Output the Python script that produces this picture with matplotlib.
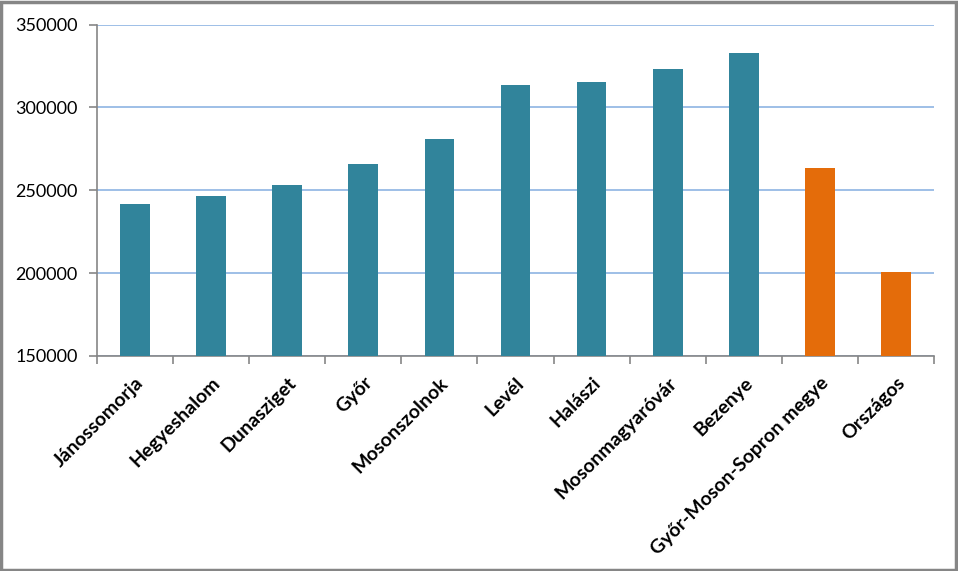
import matplotlib
matplotlib.use("Agg")
import matplotlib.pyplot as plt
from matplotlib.patches import Rectangle
import numpy as np

categories = ["Jánossomorja", "Hegyeshalom", "Dunasziget", "Győr", "Mosonszolnok",
              "Levél", "Halászi", "Mosonmagyaróvár", "Bezenye",
              "Győr-Moson-Sopron megye", "Országos"]
values = [242000, 246700, 253300, 266000, 281100, 313700, 315600, 323400, 333000,
          263600, 200800]
colors = ["#31849B"] * 9 + ["#E46C0A"] * 2
yticks = [150000, 200000, 250000, 300000, 350000]

plt.rcParams['font.family'] = ['Lato', 'DejaVu Sans']

W, H = 958, 571
fig = plt.figure(figsize=(W / 100, H / 100), dpi=100)
ax = fig.add_axes([97 / W, 1 - 356 / H, (934 - 97) / W, (356 - 24.5) / H])

x = np.arange(len(categories))
ax.bar(x, values, width=0.39, color=colors, zorder=3)
ax.set_xlim(-0.5, len(categories) - 0.5)
ax.set_ylim(150000, 350000)
ax.set_yticks(yticks)
ax.set_yticklabels([str(v) for v in yticks], fontsize=13)
ax.yaxis.grid(True, color="#8EB4E3", linewidth=1.2, zorder=0)
ax.set_axisbelow(True)

ax.set_xticks(np.arange(-0.5, len(categories) + 0.5, 1))
ax.set_xticklabels([])
ax.set_xticks(x, minor=True)
ax.set_xticklabels(categories, minor=True, rotation=45, ha="right", va="top",
                   rotation_mode="anchor", fontsize=14, fontweight="bold")
ax.tick_params(axis="x", which="minor", length=0, pad=13)
ax.tick_params(axis="x", which="major", length=6, color="#868686", width=1.2)
ax.tick_params(axis="y", length=6, color="#868686", width=1.2, pad=8)

for s in ["top", "right"]:
    ax.spines[s].set_visible(False)
for s in ["left", "bottom"]:
    ax.spines[s].set_color("#868686")
    ax.spines[s].set_linewidth(1.2)

fig.patches.append(Rectangle((0.001, 0.002), 0.997, 0.995, transform=fig.transFigure,
                             fill=False, edgecolor="#868686", linewidth=2.5))

fig.savefig("out.png", dpi=100)
